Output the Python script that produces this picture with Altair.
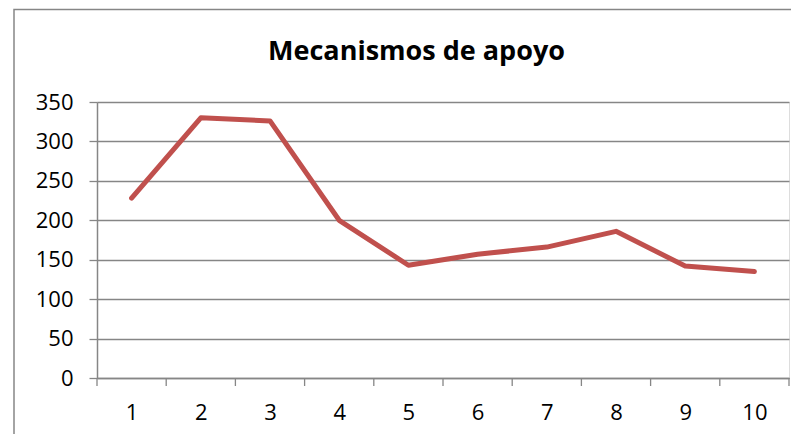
import altair as alt
import pandas as pd

categories = [1, 2, 3, 4, 5, 6, 7, 8, 9, 10]
values = [228, 330, 326, 200, 143, 157, 166, 186, 142, 135]
y_ticks = [0, 50, 100, 150, 200, 250, 300, 350]
x_edges = [0.5, 1.5, 2.5, 3.5, 4.5, 5.5, 6.5, 7.5, 8.5, 9.5, 10.5]
title_text = "Mecanismos de apoyo"

W, H = 692, 276
GRAY = "#868686"
RED = "#C0504D"
FONT = "Open Sans"

df = pd.DataFrame({"cat": categories, "val": values})
xscale = alt.Scale(domain=[0.5, 10.5], nice=False, zero=False)
yscale = alt.Scale(domain=[0, 350], nice=False)

line = alt.Chart(df).mark_line(
    color=RED, strokeWidth=5, strokeCap="round", strokeJoin="round"
).encode(
    x=alt.X("cat:Q", scale=xscale, axis=alt.Axis(
        values=categories, ticks=False, tickSize=0, grid=False,
        domainColor=GRAY, domainWidth=1.5,
        labelFont=FONT, labelFontSize=22, labelColor="black",
        labelPadding=24, labelFlush=False, title=None, format="d")),
    y=alt.Y("val:Q", scale=yscale, axis=alt.Axis(
        values=y_ticks, grid=True, gridColor=GRAY, gridWidth=1.3,
        domainColor=GRAY, domainWidth=1.5, tickColor=GRAY, tickWidth=1.3,
        tickSize=8, labelFont=FONT, labelFontSize=22, labelColor="black",
        labelPadding=16, title=None, format="d")),
)

ticks = alt.Chart(pd.DataFrame({"e": x_edges})).mark_rule(
    color=GRAY, strokeWidth=1.3
).encode(
    x=alt.X("e:Q", scale=xscale),
    y=alt.value(H),
    y2=alt.value(H + 8),
)

title = alt.Chart(pd.DataFrame({"t": [title_text]})).mark_text(
    font=FONT, fontSize=27, fontWeight="bold", baseline="alphabetic",
    align="center", color="black"
).encode(
    text="t:N",
    x=alt.value(319.5),
    y=alt.value(-42),
)

border = alt.Chart(pd.DataFrame({"b": [0]})).mark_rect(
    fillOpacity=0, stroke=GRAY, strokeWidth=1.5
).encode(
    x=alt.value(-83), x2=alt.value(W + 100),
    y=alt.value(-92.5), y2=alt.value(H + 100),
)

chart = alt.layer(border, ticks, line, title).properties(
    width=W, height=H,
    autosize=alt.AutoSizeParams(type="none"),
    padding={"left": 89, "top": 94, "right": 2, "bottom": 56},
).configure_view(stroke=None).configure(background="white")

chart.save("out.html", embed_options={"renderer": "svg", "actions": False})
